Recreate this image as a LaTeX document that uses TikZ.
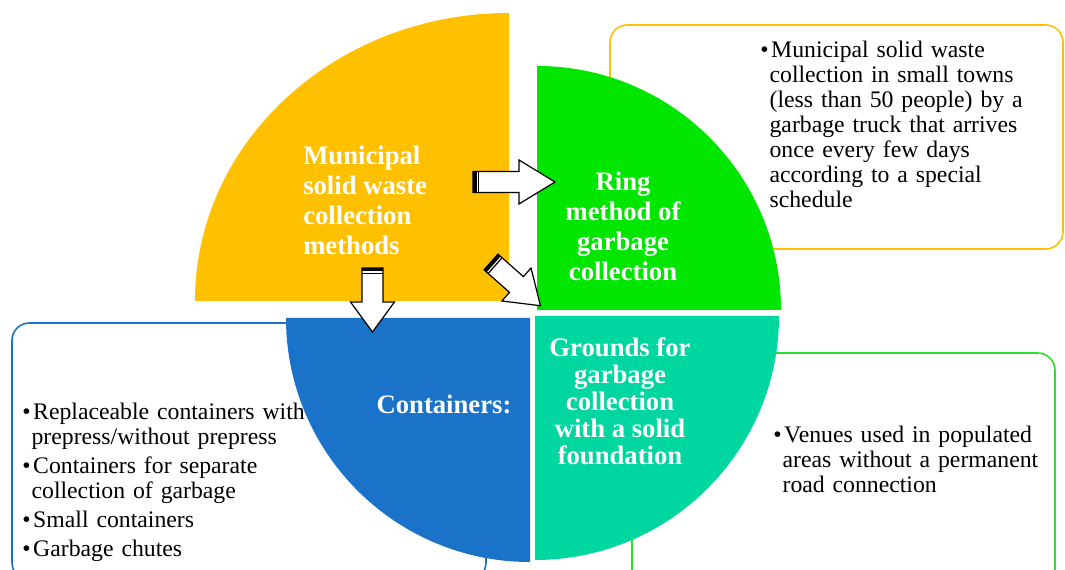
\documentclass[tikz,border=0pt]{standalone}
\usepackage{fontspec}
\setmainfont{Liberation Serif}
\usetikzlibrary{positioning}
\definecolor{wasteyellow}{RGB}{255,192,0}
\definecolor{ringgreen}{RGB}{0,230,0}
\definecolor{groundteal}{RGB}{0,214,160}
\definecolor{contblue}{RGB}{26,115,200}
\definecolor{notegreen}{RGB}{45,222,45}
\newenvironment{notelist}{\begin{list}{\textbullet}{\setlength\leftmargin{7pt}\setlength\labelwidth{5pt}\setlength\labelsep{2pt}\setlength\topsep{0pt}\setlength\partopsep{0pt}\setlength\parsep{0pt}\setlength\itemsep{3pt}}}{\end{list}}

\begin{document}
\begin{tikzpicture}[x=0.75pt, y=0.75pt,
    notebox/.style = {line width=1.2pt, rounded corners=13pt},
    title/.style = {text=white, font=\fontsize{20}{22.5}\selectfont\bfseries, align=center, inner sep=0pt},
    note/.style = {font=\fontsize{17.8}{18.75}\selectfont, text width=235pt, align=left, inner sep=0pt, anchor=west},
    pics/blockarrow/.style args = {#1/#2}{code={
      \draw[fill=white, line width=0.9pt] (0,-10.5) -- ({#1-#2},-10.5) -- ({#1-#2},-22) -- (#1,0) -- ({#1-#2},22) -- ({#1-#2},10.5) -- (0,10.5) -- cycle;
      \fill (0,-10.5) rectangle (3.5,10.5);
      \draw[line width=0.9pt] (5.5,-10.5) -- (5.5,10.5);
    }}]
   \useasboundingbox (0,0) rectangle (1065,570);
   \draw[notebox, wasteyellow] (610,321) rectangle (1063,545);
   \draw[notebox, notegreen] (632,-20) rectangle (1055,217);
   \draw[notebox, contblue] (12,-10) rectangle (486,247);
   \node[note] (ringnote) at (760,450) {\begin{notelist}\item Municipal solid waste\\ collection in small towns\\ (less than 50 people) by a\\ garbage truck that arrives\\ once every few days\\ according to a special\\ schedule\end{notelist}};
   \node[note] (groundsnote) at (773,115) {\begin{notelist}\item Venues used in populated\\ areas without a permanent\\ road connection\end{notelist}};
   \node[note] (contnote) at (22,92) {\begin{notelist}\item Replaceable containers with\\ prepress/without prepress
      \item Containers for separate\\ collection of garbage
      \item Small containers
      \item Garbage chutes\end{notelist}};
   \fill[wasteyellow] (509,269) -- (195,269) arc[start angle=180, end angle=90, x radius=314, y radius=288] -- cycle;
   \fill[ringgreen] (537,260) -- (537,504) arc[start angle=90, end angle=0, radius=244] -- cycle;
   \fill[groundteal] (535,254) -- (779,254) arc[start angle=0, end angle=-90, radius=244] -- cycle;
   \fill[contblue] (530,252) -- (530,8) arc[start angle=270, end angle=180, radius=244] -- cycle;
   \node[title, align=left, anchor=west] (methods) at (303,370) {Municipal\\ solid waste\\ collection\\ methods};
   \node[title] (ring) at (623,344) {Ring\\ method of\\ garbage\\ collection};
   \node[title] (containers) at (444,166) {Containers:};
   \node[title, font=\fontsize{20}{20.25}\selectfont\bfseries] (grounds) at (620,168.5) {Grounds for\\ garbage\\ collection\\ with a solid\\ foundation};
   \pic at (473,388) {blockarrow=82/36};
   \pic[rotate=-90] at (372.5,302) {blockarrow=64/30};
   \pic[rotate=-41.5] at (491,308) {blockarrow=66/32};
\end{tikzpicture}
\end{document}
